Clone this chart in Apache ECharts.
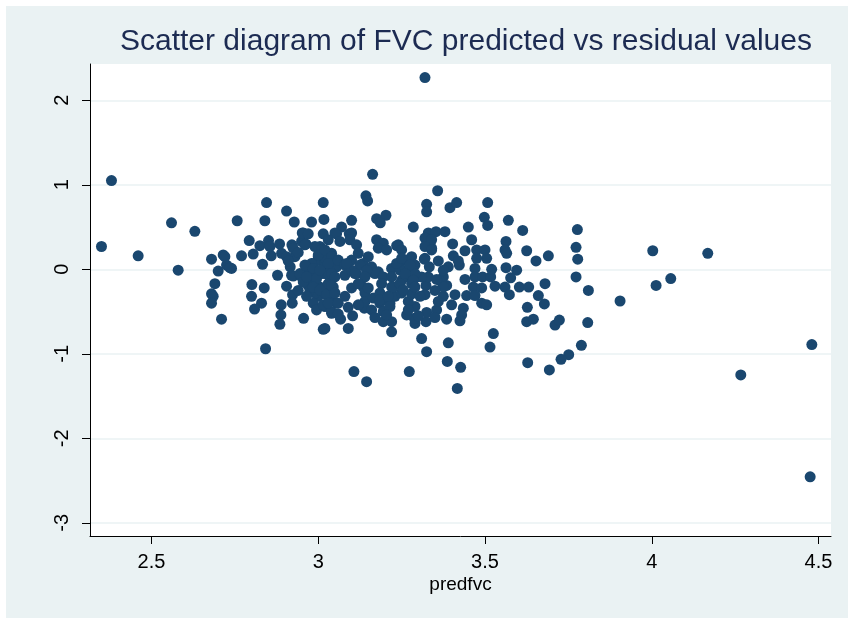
<!DOCTYPE html>
<html>
<head>
<meta charset="utf-8">
<script src="https://cdn.jsdelivr.net/npm/echarts@6/dist/echarts.min.js"></script>
<style>
  html, body { margin: 0; padding: 0; background: #fff; }
  #chart { position: absolute; left: 6px; top: 6px; width: 842px; height: 612px; }
</style>
</head>
<body>
<div id="chart"></div>
<script>
// predfvc vs residual, grouped by x range
var leftTail = [
  [2.38, 1.05], [2.35, 0.27], [2.46, 0.16], [2.56, 0.55], [2.58, -0.01], [2.63, 0.45],
  [2.68, 0.12], [2.715, 0.17], [2.70, -0.02], [2.725, 0.05], [2.74, 0.01], [2.69, -0.17],
  [2.68, -0.29], [2.685, -0.32], [2.68, -0.40], [2.71, -0.59], [2.757, 0.575], [2.77, 0.16],
  [2.793, 0.34], [2.72, 0.15], [2.735, 0.02]
];
var group2 = [
  [2.805, 0.18], [2.825, 0.28], [2.833, 0.06], [2.845, 0.79], [2.84, 0.575], [2.851, 0.34],
  [2.859, 0.16], [2.801, -0.18], [2.838, -0.22], [2.80, -0.32], [2.83, -0.40], [2.809, -0.47],
  [2.842, -0.94], [2.878, -0.07], [2.884, 0.30], [2.905, 0.69], [2.928, 0.56], [2.889, -0.42],
  [2.888, -0.54], [2.885, -0.65], [2.921, 0.29], [2.930, 0.15], [2.916, 0.03], [2.925, -0.08],
  [2.923, -0.30], [2.922, -0.40], [2.956, -0.58], [2.855, 0.27], [2.89, 0.19], [2.925, 0.25],
  [2.905, 0.15], [2.955, 0.43], [2.94, 0.20], [2.95, 0.33], [2.91, 0.10], [2.94, -0.25],
  [2.905, -0.20]
];
var group3 = [
  [2.952, 0.43], [2.97, 0.42], [2.963, 0.30], [2.98, 0.56], [3.015, 0.79], [3.017, 0.59],
  [3.015, -0.71], [3.015, 0.42], [3.005, 0.27], [3.0, 0.15], [2.985, 0.07], [3.01, -0.01],
  [2.985, -0.13], [3.005, -0.21], [3.0, -0.32], [3.02, -0.42], [2.965, -0.05], [2.975, 0.03],
  [2.96, 0.29], [2.99, 0.27], [3.01, 0.23], [3.03, 0.19], [3.0, 0.11], [3.02, 0.07],
  [2.98, 0.07], [2.965, 0.03], [2.99, -0.03], [3.02, -0.05], [3.04, 0.03], [3.035, -0.09],
  [2.92, -0.07], [2.95, -0.09], [2.98, -0.07], [3.01, -0.05], [2.97, -0.19], [3.0, -0.21],
  [3.02, -0.28], [3.03, -0.17], [3.04, -0.36], [3.02, -0.44], [3.04, -0.52], [2.99, -0.28],
  [2.945, -0.05], [2.955, -0.15], [2.975, -0.245], [2.985, -0.40], [2.995, -0.48], [2.965, -0.32],
  [2.96, 0.05], [2.985, 0.01], [2.965, -0.09], [2.995, -0.11], [2.985, -0.21], [3.005, -0.245],
  [3.025, -0.30], [3.045, -0.21], [3.055, -0.40], [3.015, -0.42], [3.04, -0.50], [3.055, 0.03],
  [3.03, -0.05], [3.005, -0.01], [3.04, 0.19], [3.02, 0.13], [3.0, 0.17], [3.02, -0.70]
];
var group4 = [
  [3.163, 1.124], [3.143, 0.87], [3.148, 0.81], [3.175, 0.60], [3.203, 0.64], [3.186, 0.55],
  [3.10, 0.58], [3.07, 0.50], [3.055, 0.42], [3.093, 0.42], [3.175, 0.35], [3.195, 0.31],
  [3.05, 0.43], [3.10, 0.43], [3.03, 0.35], [3.065, 0.33], [3.095, 0.35], [3.115, 0.29],
  [3.18, 0.25], [3.205, 0.23], [3.02, 0.23], [3.04, 0.15], [3.03, 0.07], [3.06, 0.11],
  [3.08, 0.05], [3.10, 0.11], [3.12, 0.19], [3.135, 0.07], [3.15, 0.15], [3.16, 0.03],
  [3.18, -0.03], [3.15, -0.03], [3.115, -0.05], [3.08, -0.07], [3.04, -0.05], [3.125, 0.05],
  [3.10, -0.01], [3.085, 0.07], [3.17, -0.05], [3.145, -0.01], [3.195, -0.09], [3.135, -0.21],
  [3.14, -0.28], [3.138, -0.46], [3.14, -0.38], [3.165, -0.34], [3.20, -0.50], [3.185, -0.40],
  [3.19, -0.17], [3.185, -0.28], [3.15, -0.22], [3.14, -0.09], [3.11, -0.05], [3.05, -0.09],
  [3.04, -0.19], [3.05, -0.28], [3.03, -0.40], [3.06, -0.40], [3.08, -0.32], [3.10, -0.22],
  [3.12, -0.17], [3.067, -0.59], [3.09, -0.70], [3.103, -0.55], [3.107, -1.21], [3.145, -1.33],
  [3.195, -0.62], [3.185, -0.36], [3.195, -0.50], [3.16, -0.48], [3.12, -0.42], [3.17, -0.57],
  [3.09, -0.45], [3.06, -0.53]
];
var group5 = [
  [3.24, 0.29], [3.285, 0.50], [3.325, 0.77], [3.325, 0.68], [3.358, 0.93], [3.395, 0.73],
  [3.415, 0.79], [3.33, 0.43], [3.353, 0.445], [3.38, 0.445], [3.335, 0.31], [3.34, 0.25],
  [3.403, 0.30], [3.405, 0.16], [3.423, 0.05], [3.235, 0.28], [3.25, 0.23], [3.26, 0.11],
  [3.28, 0.15], [3.29, 0.05], [3.24, 0.07], [3.32, 0.37], [3.34, 0.35], [3.32, 0.27],
  [3.34, 0.23], [3.32, 0.13], [3.22, 0.01], [3.255, -0.01], [3.28, 0.03], [3.26, -0.09],
  [3.295, -0.09], [3.22, -0.09], [3.22, -0.74], [3.22, -0.62], [3.29, -0.64], [3.288, -0.58],
  [3.323, -0.62], [3.325, -0.51], [3.265, -0.54], [3.355, -0.48], [3.375, -0.32], [3.385, -0.19],
  [3.375, -0.09], [3.39, 0.03], [3.32, -0.30], [3.323, -0.19], [3.33, -0.09], [3.318, 0.12],
  [3.333, 0.03], [3.385, -0.59], [3.39, -0.87], [3.387, -1.09], [3.427, -1.16], [3.417, -1.41],
  [3.31, -0.82], [3.325, -0.975], [3.273, -1.21], [3.32, 2.27], [3.215, -0.40], [3.23, -0.32],
  [3.29, -0.44], [3.27, -0.38], [3.25, -0.28], [3.28, -0.17], [3.31, -0.09], [3.29, -0.05],
  [3.25, -0.13], [3.22, -0.21], [3.35, -0.57], [3.28, -0.29], [3.245, -0.01], [3.375, -0.01],
  [3.37, -0.15], [3.21, -0.32], [3.225, -0.21], [3.245, -0.17], [3.255, -0.245], [3.215, -0.44],
  [3.205, -0.54], [3.235, 0.07], [3.25, 0.13], [3.275, 0.05], [3.26, -0.05], [3.285, -0.13],
  [3.29, -0.21], [3.305, -0.32], [3.375, -0.21], [3.435, -0.46], [3.43, -0.54], [3.425, -0.61],
  [3.35, -0.25], [3.36, -0.38], [3.40, -0.42], [3.41, -0.30], [3.44, -0.12], [3.42, 0.10],
  [3.36, 0.10], [3.355, -0.12], [3.30, -0.55], [3.27, -0.48]
];
var group6 = [
  [3.45, 0.50], [3.508, 0.79], [3.498, 0.615], [3.508, 0.52], [3.57, 0.58], [3.613, 0.46],
  [3.563, 0.33], [3.56, 0.23], [3.565, 0.19], [3.625, 0.22], [3.653, 0.10], [3.69, 0.16],
  [3.475, 0.23], [3.50, 0.23], [3.505, 0.13], [3.475, 0.13], [3.47, 0.01], [3.47, -0.09],
  [3.493, -0.09], [3.517, -0.09], [3.563, 0.02], [3.595, -0.01], [3.577, -0.10], [3.56, -0.21],
  [3.573, -0.30], [3.603, -0.21], [3.631, -0.21], [3.66, -0.31], [3.678, -0.41], [3.68, -0.17],
  [3.465, -0.21], [3.49, -0.22], [3.445, -0.31], [3.47, -0.31], [3.49, -0.40], [3.505, -0.42],
  [3.627, -0.45], [3.625, -0.62], [3.645, -0.59], [3.525, -0.76], [3.515, -0.92], [3.628, -1.105],
  [3.693, -1.19], [3.777, 0.47], [3.773, 0.26], [3.778, 0.12], [3.773, -0.09], [3.81, -0.25],
  [3.71, -0.66], [3.723, -0.60], [3.808, -0.63], [3.789, -0.90], [3.751, -1.01], [3.728, -1.065],
  [3.46, 0.35], [3.44, 0.22], [3.52, 0.0], [3.53, -0.2]
];
var rightTail = [
  [3.905, -0.375], [4.003, 0.22], [4.013, -0.19], [4.057, -0.11], [4.168, 0.19],
  [4.267, -1.25], [4.48, -0.89], [4.475, -2.455]
];

var xTicks = [2.5, 4.5, 0.5];   // first, last, step
var yTicks = [-3, 2, 1];

var points = [].concat(leftTail, group2, group3, group4, group5, group6, rightTail);

var chart = echarts.init(document.getElementById('chart'));
var font = '"Liberation Sans", Arial, sans-serif';
var navy = '#1A476F';

chart.setOption({
  backgroundColor: '#EAF2F3',
  animation: false,
  title: {
    text: 'Scatter diagram of FVC predicted vs residual values',
    left: 114,
    top: 21,
    padding: 0,
    textStyle: { color: '#1c2b52', fontSize: 30, fontWeight: 'normal', fontFamily: font }
  },
  grid: [
    // plot region
    { left: 84, top: 58, width: 741, height: 472, show: true, backgroundColor: '#fff', borderWidth: 0 },
    // x tick labels (2.5 .. 4.5)
    { left: 145.5, top: 58, width: 667, height: 472 },
    // y tick labels and gridlines (-3 .. 2)
    { left: 84, top: 94.3, width: 741, height: 422.5 }
  ],
  xAxis: [
    {
      gridIndex: 0, type: 'value', min: 2.3156, max: 4.5375,
      axisLine: { show: true, onZero: false, lineStyle: { color: '#000', width: 1 } },
      axisTick: { show: false }, axisLabel: { show: false }, splitLine: { show: false },
      name: 'predfvc', nameLocation: 'middle', nameGap: 39,
      nameTextStyle: { color: '#000', fontSize: 19, fontFamily: font }
    },
    {
      gridIndex: 1, type: 'value', min: xTicks[0], max: xTicks[1], interval: xTicks[2],
      axisLine: { show: false, onZero: false },
      axisTick: { show: true, length: 8, lineStyle: { color: '#000' } },
      axisLabel: { color: '#000', fontSize: 20, margin: 16, fontFamily: font },
      splitLine: { show: false }
    },
    { gridIndex: 2, type: 'value', show: false, min: 0, max: 1 }
  ],
  yAxis: [
    {
      gridIndex: 0, type: 'value', min: -3.156, max: 2.43,
      axisLine: { show: true, onZero: false, lineStyle: { color: '#000', width: 1 } },
      axisTick: { show: false }, axisLabel: { show: false }, splitLine: { show: false }
    },
    { gridIndex: 1, type: 'value', show: false, min: 0, max: 1 },
    {
      gridIndex: 2, type: 'value', min: yTicks[0], max: yTicks[1], interval: yTicks[2],
      axisLine: { show: false, onZero: false },
      axisTick: { show: true, length: 8, lineStyle: { color: '#000' } },
      axisLabel: { color: '#000', fontSize: 20, margin: 18, rotate: 90, fontFamily: font },
      splitLine: { show: true, lineStyle: { color: '#EAF2F3', width: 1.5 } }
    }
  ],
  series: [{
    type: 'scatter',
    xAxisIndex: 0,
    yAxisIndex: 0,
    symbol: 'circle',
    symbolSize: 11,
    itemStyle: { color: navy, opacity: 1 },
    emphasis: { disabled: true },
    data: points
  }]
});
</script>
</body>
</html>
